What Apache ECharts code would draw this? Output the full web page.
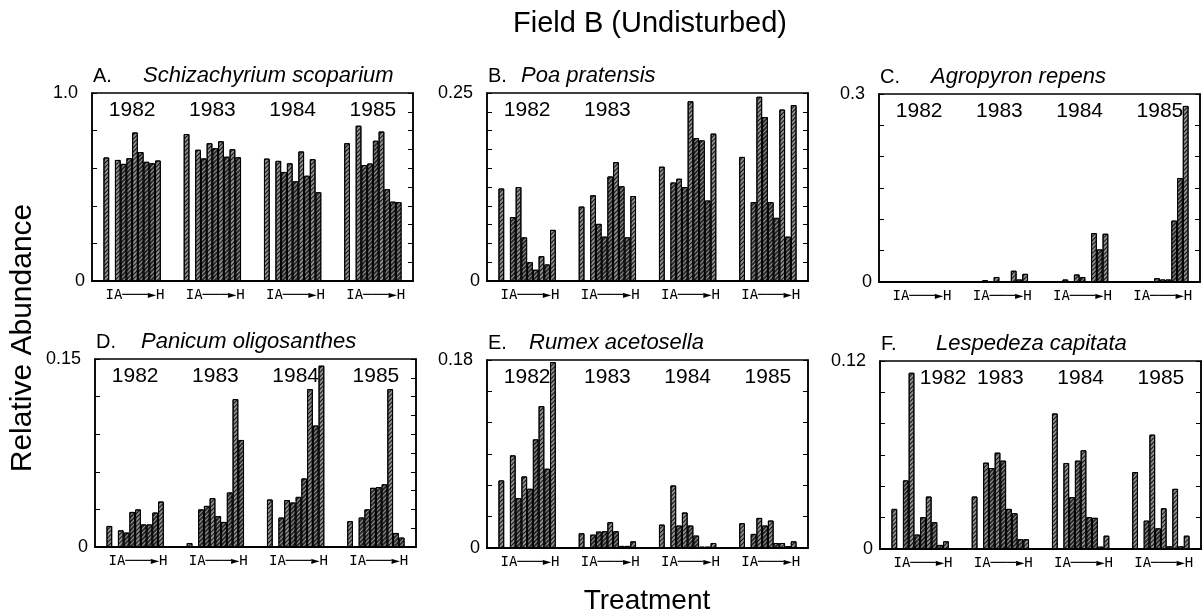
<!DOCTYPE html>
<html>
<head>
<meta charset="utf-8">
<script src="https://cdn.jsdelivr.net/npm/echarts@6/dist/echarts.min.js"></script>
<style>
  html, body { margin: 0; background: #fff; }
  #main { width: 1203px; height: 616px; }
</style>
</head>
<body>
<div id="main"></div>
<script>
// one row per year: I first, then A..H
const years = ['1982', '1983', '1984', '1985']
const treatments = ['I', 'A', 'B', 'C', 'D', 'E', 'F', 'G', 'H']

const schizachyrium = [
  [0.657, 0.644, 0.623, 0.653, 0.790, 0.686, 0.634, 0.626, 0.641],
  [0.782, 0.698, 0.652, 0.733, 0.706, 0.743, 0.661, 0.701, 0.658],
  [0.651, 0.639, 0.580, 0.626, 0.530, 0.689, 0.560, 0.648, 0.472],
  [0.733, 0.826, 0.617, 0.625, 0.746, 0.795, 0.488, 0.422, 0.420],
]
const poa = [
  [0.123, 0.085, 0.125, 0.058, 0.025, 0.015, 0.033, 0.022, 0.068],
  [0.099, 0.114, 0.076, 0.059, 0.139, 0.158, 0.126, 0.058, 0.113],
  [0.152, 0.131, 0.136, 0.125, 0.239, 0.190, 0.187, 0.107, 0.196],
  [0.165, 0.105, 0.245, 0.218, 0.105, 0.084, 0.228, 0.059, 0.234],
]
const agropyron = [
  [0, 0, 0, 0.001, 0, 0, 0.001, 0, 0],
  [0, 0.003, 0, 0.008, 0, 0, 0.018, 0.004, 0.013],
  [0, 0.004, 0, 0.012, 0.008, 0, 0.078, 0.052, 0.077],
  [0, 0, 0, 0.006, 0.004, 0.004, 0.098, 0.166, 0.281],
]
const panicum = [
  [0.0168, 0.0133, 0.0115, 0.0280, 0.0300, 0.0180, 0.0180, 0.0275, 0.0363],
  [0.0032, 0.0300, 0.0328, 0.0390, 0.0246, 0.0200, 0.0435, 0.1180, 0.0854],
  [0.0379, 0.0235, 0.0374, 0.0355, 0.0400, 0.0547, 0.1260, 0.0969, 0.1447],
  [0.0206, 0.0235, 0.0300, 0.0472, 0.0478, 0.0500, 0.1260, 0.0112, 0.0075],
]
const rumex = [
  [0.0647, 0.0887, 0.0477, 0.0685, 0.0567, 0.1040, 0.1358, 0.0759, 0.1780],
  [0.0141, 0.0128, 0.0157, 0.0160, 0.0247, 0.0160, 0.0020, 0.0020, 0.0064],
  [0.0224, 0.0599, 0.0215, 0.0340, 0.0215, 0.0119, 0.0013, 0.0013, 0.0048],
  [0.0237, 0.0135, 0.0288, 0.0215, 0.0263, 0.0048, 0.0048, 0.0019, 0.0064],
]
const lespedeza = [
  [0.0256, 0.0438, 0.1125, 0.0092, 0.0203, 0.0335, 0.0171, 0.0026, 0.0049],
  [0.0335, 0.0551, 0.0517, 0.0615, 0.0564, 0.0256, 0.0228, 0.0062, 0.0062],
  [0.0865, 0.0549, 0.0331, 0.0564, 0.0630, 0.0203, 0.0199, 0.0015, 0.0085],
  [0.0491, 0.0181, 0.0730, 0.0132, 0.0260, 0.0017, 0.0384, 0.0017, 0.0085],
]

const letters = ['A.', 'B.', 'C.', 'D.', 'E.', 'F.']
const species = ['Schizachyrium scoparium', 'Poa pratensis', 'Agropyron repens',
  'Panicum oligosanthes', 'Rumex acetosella', 'Lespedeza capitata']
const axisMax = [1.0, 0.25, 0.3, 0.15, 0.18, 0.12]
const maxLabels = ['1.0', '0.25', '0.3', '0.15', '0.18', '0.12']
const leftStep = [0.2, 0.025, 0.05, 0.03, 0.03, 0.02]
const rightStep = [0.1, 0.025, 0.05, 0.015, 0.03, 0.02]
const treatmentLabel = 'IA\u2500\u2500\u2500\u25BAH'

const allValues = [schizachyrium, poa, agropyron, panicum, rumex, lespedeza]

// layout
const gridLeft = [92, 487, 879, 95, 487, 880]
const gridTop = [93, 93, 94, 359, 360, 361]
const gridW = 321
const gridH = 188
const titleGap = [51, 34, 52, 46, 42, 56]
const SLOTS = 14
const sans = '"Liberation Sans", Arial, sans-serif'

const hatch = (color) => ({
  symbol: 'rect', symbolSize: 1,
  dashArrayX: [1, 0], dashArrayY: [1, 2],
  rotation: -Math.PI / 4, color,
})
const lightStyle = { color: '#8e8e8e', borderColor: '#000', borderWidth: 1, decal: hatch('#111') }
const darkStyle = { color: '#2a2a2a', borderColor: '#000', borderWidth: 1, decal: hatch('#959595') }

// 2 blank, I, blank, A..H, 2 blank per year
const slotData = (rows) => {
  const out = []
  rows.forEach(row => {
    const run = [null, null, row[0], null, ...row.slice(1), null, null]
    run.forEach((v, i) => {
      if (v === null) { out.push('-'); return }
      const l = run[i - 1], r = run[i + 1]
      const peak = (l == null || v >= l) && (r == null || v >= r)
      out.push({ value: v, itemStyle: peak ? lightStyle : darkStyle })
    })
  })
  return out
}

const grid = [], xAxis = [], yAxis = [], series = [], graphic = []

allValues.forEach((rows, p) => {
  grid.push({
    left: gridLeft[p], top: gridTop[p], width: gridW, height: gridH,
    show: true, borderColor: '#000', borderWidth: 1.5,
  })
  xAxis.push({
    gridIndex: p, type: 'category', position: 'bottom',
    data: new Array(SLOTS * 4).fill(''),
    axisLine: { lineStyle: { color: '#000', width: 2 } },
    axisTick: { show: false },
    axisLabel: {
      interval: 0, margin: 7, color: '#000',
      fontFamily: '"DejaVu Sans Mono", "Liberation Mono", monospace', fontSize: 14,
      formatter: (v, i) => (i % SLOTS === 7 ? treatmentLabel : ''),
    },
  })
  const yearData = years.map((y, g) => {
    if (p === 1 && g > 1) return ''
    if (p === 5 && g === 0) return { value: y, textStyle: { padding: [0, 0, 0, 46] } }
    return y
  })
  xAxis.push({
    gridIndex: p, type: 'category', position: 'top', data: yearData,
    axisLine: { show: false }, axisTick: { show: false },
    axisLabel: { inside: true, margin: 7, color: '#000', fontFamily: sans, fontSize: 21 },
  })
  const max = axisMax[p]
  yAxis.push({
    gridIndex: p, type: 'value', position: 'left', min: 0, max, interval: leftStep[p],
    splitLine: { show: false },
    axisLine: { show: true, lineStyle: { color: '#000', width: 1.5 } },
    axisTick: { show: true, inside: true, length: 5, lineStyle: { color: '#000' } },
    axisLabel: {
      color: '#000', fontFamily: sans, fontSize: 18, margin: 7,
      formatter: (v) => (v === 0 ? '0' : Math.abs(v - max) < 1e-9 ? '{m|' + maxLabels[p] + '}' : ''),
      rich: { m: { fontFamily: sans, fontSize: 18, color: '#000', padding: [0, 7, 0, 0] } },
    },
  })
  yAxis.push({
    gridIndex: p, type: 'value', position: 'right', min: 0, max, interval: rightStep[p],
    splitLine: { show: false },
    axisLine: { show: true, lineStyle: { color: '#000', width: 1.5 } },
    axisTick: { show: true, inside: true, length: 5, lineStyle: { color: '#000' } },
    axisLabel: { show: false },
  })
  series.push({
    type: 'bar', xAxisIndex: p * 2, yAxisIndex: p * 2,
    barWidth: '100%', barCategoryGap: '0%',
    data: slotData(rows), silent: true,
  })
  const ty = gridTop[p] - 17
  graphic.push({
    type: 'text', x: gridLeft[p] + 1, y: ty,
    style: { text: letters[p], fill: '#000', font: '20px ' + sans, textAlign: 'left', textVerticalAlign: 'middle', align: 'left', verticalAlign: 'middle' },
  })
  graphic.push({
    type: 'text', x: gridLeft[p] + titleGap[p], y: ty,
    style: { text: species[p], fill: '#000', font: 'italic 22px ' + sans, textAlign: 'left', textVerticalAlign: 'middle', align: 'left', verticalAlign: 'middle' },
  })
})

const label = (text, x, y, size, rotation) => ({
  type: 'text', x, y, rotation: rotation || 0,
  style: { text, fill: '#000', font: size + 'px ' + sans, textAlign: 'center', textVerticalAlign: 'middle', align: 'center', verticalAlign: 'middle' },
})
graphic.push(label('Field B (Undisturbed)', 650, 24, 29))
graphic.push(label('Relative Abundance', 23, 338, 30, Math.PI / 2))
graphic.push(label('Treatment', 647, 601, 28))

const chart = echarts.init(document.getElementById('main'))
chart.setOption({
  animation: false,
  backgroundColor: '#fff',
  grid, xAxis, yAxis, series, graphic,
})
</script>
</body>
</html>
